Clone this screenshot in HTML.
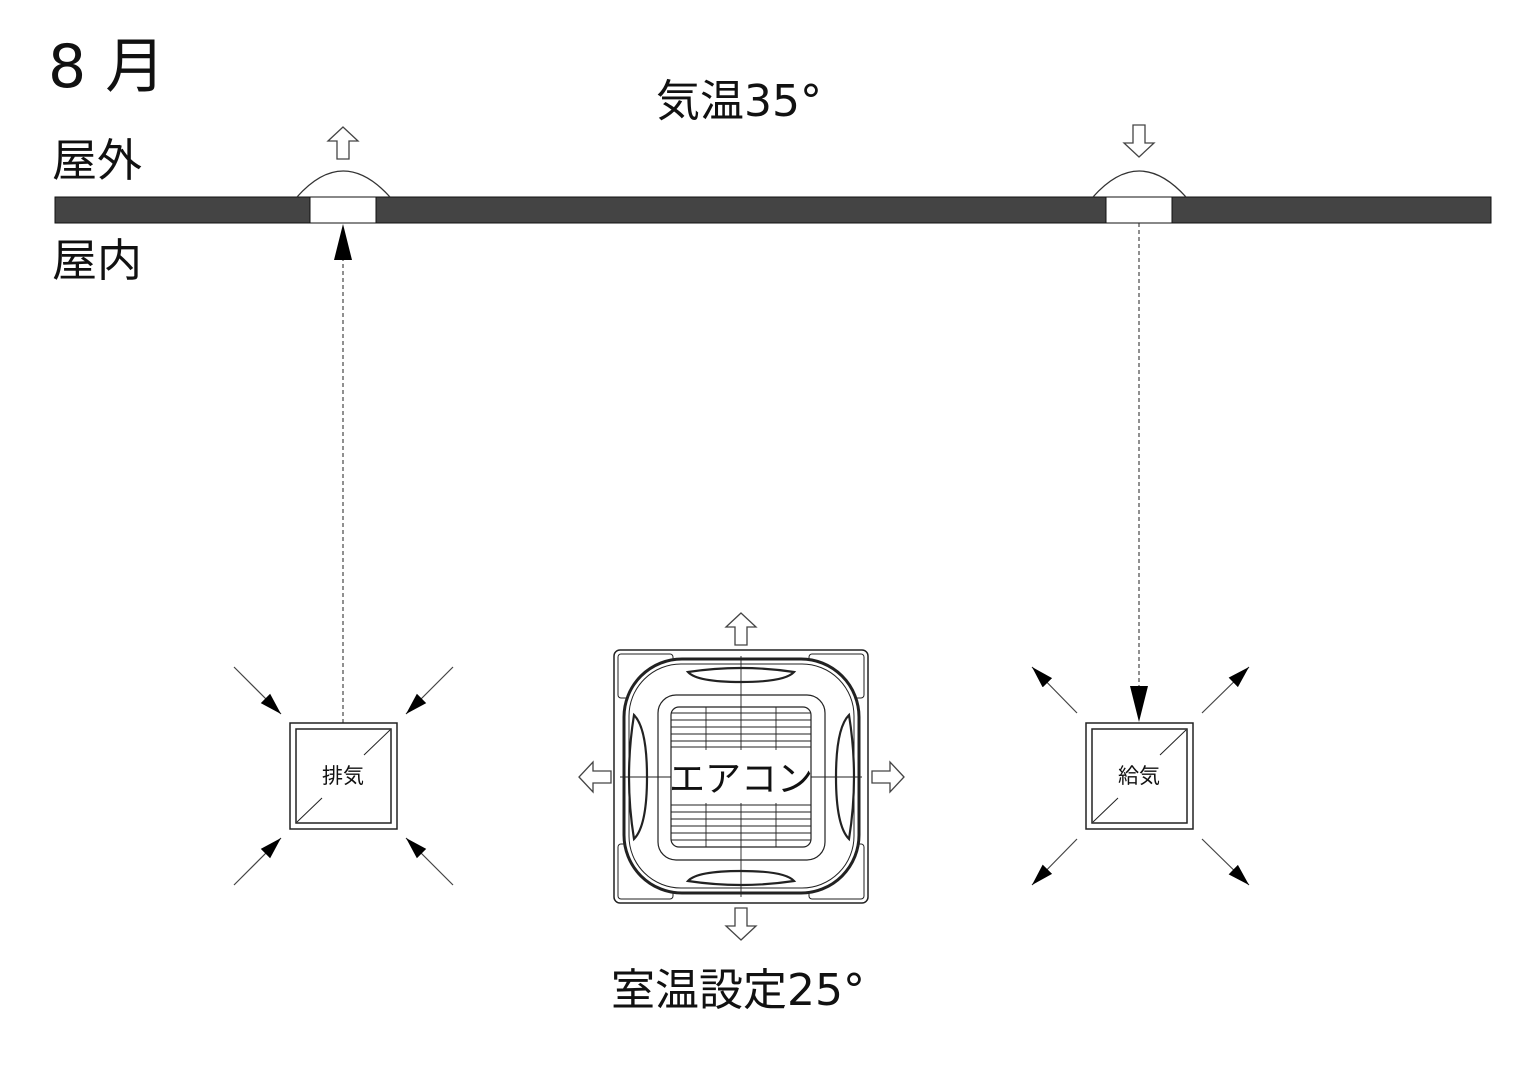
<!DOCTYPE html>
<html><head><meta charset="utf-8"><style>
body{margin:0;background:#fff}
svg{display:block}
text{font-family:"DejaVu Sans","Noto Sans CJK JP",sans-serif;fill:#111}
</style></head><body>
<svg width="1536" height="1073" viewBox="0 0 1536 1073" xmlns="http://www.w3.org/2000/svg">
<defs>
<marker id="ah2" viewBox="0 0 10 10" refX="10" refY="5" markerWidth="22" markerHeight="22" markerUnits="userSpaceOnUse" orient="auto"><path d="M0,2 L10,5 L0,8z" fill="#000"/></marker>
<g id="hol">
<path d="M0,-16 L-15,-2 L-6,-2 L-6,16 L6,16 L6,-2 L15,-2Z" fill="#fff" stroke="#444" stroke-width="1.3"/>
</g>
</defs>
<text x="48" y="87" font-size="60">8 月</text>
<text x="656" y="116" font-size="44">気温35°</text>
<text x="52" y="176" font-size="45">屋外</text>
<text x="52" y="276" font-size="45">屋内</text>
<text x="611" y="1005" font-size="44">室温設定25°</text>

<rect x="55" y="197" width="1436" height="26" fill="#444" stroke="#111" stroke-width="1"/>
<rect x="310" y="197" width="66" height="26" fill="#fff" stroke="#111" stroke-width="1"/>
<rect x="1106" y="197" width="66" height="26" fill="#fff" stroke="#111" stroke-width="1"/>
<path d="M297,197 Q343,145 390,197" fill="none" stroke="#333" stroke-width="1.3"/>
<path d="M1093,197 Q1139,145 1186,197" fill="none" stroke="#333" stroke-width="1.3"/>
<use href="#hol" transform="translate(343,143)"/>
<use href="#hol" transform="translate(1139,141) rotate(180)"/>

<line x1="343" y1="723" x2="343" y2="258" stroke="#222" stroke-width="1" stroke-dasharray="4,3"/>
<path d="M343,224 L334,260 L352,260Z" fill="#000"/>
<line x1="1139" y1="223" x2="1139" y2="688" stroke="#222" stroke-width="1" stroke-dasharray="4,3"/>
<path d="M1139,722 L1130,686 L1148,686Z" fill="#000"/>

<rect x="290" y="723" width="107" height="106" fill="#fff" stroke="#222" stroke-width="1.5"/>
<rect x="296" y="729" width="95" height="94" fill="none" stroke="#222" stroke-width="1.5"/>
<line x1="297" y1="822" x2="322" y2="798" stroke="#222"/><line x1="364" y1="755" x2="390" y2="730" stroke="#222"/>
<text x="343" y="783" font-size="21" text-anchor="middle">排気</text>
<g stroke="#444" stroke-width="1.2">
<line x1="234" y1="667" x2="281" y2="714" marker-end="url(#ah2)"/>
<line x1="453" y1="667" x2="406" y2="714" marker-end="url(#ah2)"/>
<line x1="234" y1="885" x2="281" y2="838" marker-end="url(#ah2)"/>
<line x1="453" y1="885" x2="406" y2="838" marker-end="url(#ah2)"/>
</g>

<rect x="1086" y="723" width="107" height="106" fill="#fff" stroke="#222" stroke-width="1.5"/>
<rect x="1092" y="729" width="95" height="94" fill="none" stroke="#222" stroke-width="1.5"/>
<line x1="1093" y1="822" x2="1118" y2="798" stroke="#222"/><line x1="1160" y1="755" x2="1186" y2="730" stroke="#222"/>
<text x="1139" y="783" font-size="21" text-anchor="middle">給気</text>
<g stroke="#444" stroke-width="1.2">
<line x1="1077" y1="713" x2="1032" y2="667" marker-end="url(#ah2)"/>
<line x1="1202" y1="713" x2="1249" y2="667" marker-end="url(#ah2)"/>
<line x1="1077" y1="839" x2="1032" y2="885" marker-end="url(#ah2)"/>
<line x1="1202" y1="839" x2="1249" y2="885" marker-end="url(#ah2)"/>
</g>

<g fill="none" stroke="#222">
<rect x="614" y="650" width="254" height="253" rx="6" stroke-width="1.5"/>
<rect x="618" y="654" width="55" height="44" rx="3"/>
<rect x="809" y="654" width="55" height="44" rx="3"/>
<rect x="618" y="844" width="55" height="55" rx="3"/>
<rect x="809" y="844" width="55" height="55" rx="3"/>
<rect x="624" y="659" width="235" height="234" rx="58" fill="#fff" stroke-width="3"/>
<rect x="629" y="664" width="225" height="224" rx="52" stroke-width="1"/>
<rect x="658" y="695" width="167" height="165" rx="18" stroke-width="1.2"/>
<rect x="671" y="707" width="140" height="140" rx="8" stroke-width="1.2"/>
<path d="M688,672 Q741,664 794,672 Q785,682 741,682 Q697,682 688,672Z" stroke-width="2.2"/>
<path d="M688,881 Q741,889 794,881 Q785,871 741,871 Q697,871 688,881Z" stroke-width="2.2"/>
<path d="M634,715 Q624,777 634,839 Q647,826 647,777 Q647,728 634,715Z" stroke-width="2.2"/>
<path d="M849,715 Q859,777 849,839 Q836,826 836,777 Q836,728 849,715Z" stroke-width="2.2"/>
<g stroke-width="0.9">
<line x1="671" y1="713" x2="811" y2="713"/><line x1="671" y1="720" x2="811" y2="720"/><line x1="671" y1="727" x2="811" y2="727"/><line x1="671" y1="734" x2="811" y2="734"/><line x1="671" y1="741" x2="811" y2="741"/><line x1="671" y1="747" x2="811" y2="747"/>
<line x1="671" y1="805" x2="811" y2="805"/><line x1="671" y1="812" x2="811" y2="812"/><line x1="671" y1="819" x2="811" y2="819"/><line x1="671" y1="826" x2="811" y2="826"/><line x1="671" y1="833" x2="811" y2="833"/><line x1="671" y1="840" x2="811" y2="840"/>
<line x1="706" y1="707" x2="706" y2="750"/><line x1="776" y1="707" x2="776" y2="750"/>
<line x1="706" y1="803" x2="706" y2="847"/><line x1="776" y1="803" x2="776" y2="847"/>
<line x1="741" y1="656" x2="741" y2="750"/><line x1="741" y1="803" x2="741" y2="897"/>
<line x1="620" y1="777" x2="671" y2="777"/><line x1="811" y1="777" x2="862" y2="777"/>
</g>
</g>
<text x="741" y="791" font-size="36" text-anchor="middle">エアコン</text>
<use href="#hol" transform="translate(741,629)"/>
<use href="#hol" transform="translate(741,924) rotate(180)"/>
<use href="#hol" transform="translate(595,777) rotate(-90)"/>
<use href="#hol" transform="translate(888,777) rotate(90)"/>
</svg>
</body></html>
